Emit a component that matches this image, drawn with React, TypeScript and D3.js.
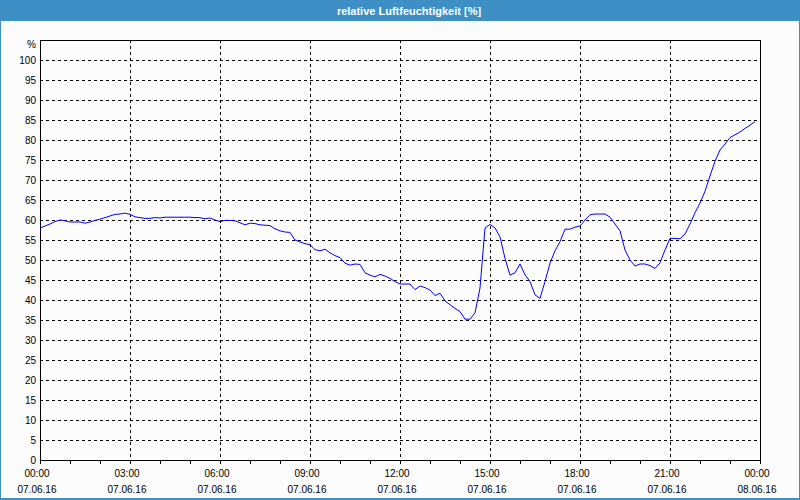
import React from "react";
import * as d3 from "d3";

const title = "relative Luftfeuchtigkeit [%]";
const yTicks = [0, 5, 10, 15, 20, 25, 30, 35, 40, 45, 50, 55, 60, 65, 70, 75, 80, 85, 90, 95, 100];
const xMajorHours = [0, 3, 6, 9, 12, 15, 18, 21, 24];
const xTimeLabels = ["00:00", "03:00", "06:00", "09:00", "12:00", "15:00", "18:00", "21:00", "00:00"];
const xDateLabels = ["07.06.16", "07.06.16", "07.06.16", "07.06.16", "07.06.16", "07.06.16", "07.06.16", "07.06.16", "08.06.16"];

// relative humidity, one value per 10 minutes from 00:00 to 23:50
const humidity = [
  58.0, 58.5, 59.0, 59.6, 60.0, 59.8, 59.5, 59.5, 59.5, 59.2, 59.5, 59.9,
  60.2, 60.6, 61.0, 61.4, 61.5, 61.7, 61.4, 60.8, 60.6, 60.4, 60.4, 60.6,
  60.5, 60.7, 60.7, 60.7, 60.7, 60.7, 60.7, 60.6, 60.6, 60.3, 60.5, 60.0,
  59.6, 59.9, 59.9, 59.8, 59.3, 58.8, 59.2, 59.1, 58.8, 58.7, 58.6, 57.8,
  57.3, 57.0, 56.9, 55.0, 54.5, 54.1, 53.8, 52.6, 52.3, 52.7, 51.8, 51.1,
  50.6, 49.2, 48.7, 49.0, 48.9, 46.8, 46.2, 45.8, 46.4, 46.0, 45.4, 44.6,
  44.0, 44.0, 44.0, 42.6, 43.5, 43.1, 42.5, 41.1, 41.7, 39.8, 38.8, 37.9,
  37.1, 35.2, 35.2, 36.8, 43.0, 58.0, 58.9, 58.0, 55.8, 50.4, 46.2, 46.8,
  49.0, 46.3, 44.6, 41.3, 40.4, 44.6, 49.2, 52.3, 54.6, 57.7, 57.7, 58.2,
  58.5, 60.0, 61.3, 61.5, 61.5, 61.5, 60.7, 59.0, 57.3, 52.5, 50.0, 48.5,
  49.0, 49.0, 48.6, 47.9, 49.3, 52.5, 55.4, 55.4, 55.3, 56.5, 59.0, 61.8,
  64.2, 67.2, 71.0, 74.7, 77.5, 79.0, 80.6, 81.3, 82.0, 82.9, 83.7, 84.6,
];

const W = 800;
const H = 500;
const plot = { left: 40, right: 760, top: 40, bottom: 460 };
const font = "'Liberation Sans', Arial, sans-serif";

export default function App() {
  const x = d3.scaleLinear().domain([0, 24]).range([plot.left, plot.right]);
  const y = d3.scaleLinear().domain([0, 100]).range([plot.bottom, plot.top + 20]);
  const hours = d3.range(0, 25);
  const line = d3
    .line<number>()
    .x((_, i) => x((i * 10) / 60))
    .y((d) => y(d));

  return (
    <div style={{ position: "absolute", left: 0, top: 0 }}>
      <svg width={W} height={H} style={{ display: "block" }}>
        <rect x={0} y={0} width={W} height={H} fill="#fbfcfb" />
        <rect x={0} y={0} width={W} height={21} fill="#3d8fc6" />
        <rect x={0} y={0} width={1} height={H} fill="#3d8fc6" />
        <rect x={W - 1} y={0} width={1} height={H} fill="#3d8fc6" />
        <rect x={0} y={H - 2} width={W} height={2} fill="#3d8fc6" />
        <text
          x={409}
          y={15}
          textAnchor="middle"
          fill="#ffffff"
          fontFamily={font}
          fontWeight="bold"
          fontSize={11}
        >
          {title}
        </text>

        {/* horizontal grid */}
        {yTicks
          .filter((v) => v > 0)
          .map((v) => (
            <line
              key={"h" + v}
              x1={plot.left}
              x2={plot.right}
              y1={y(v) + 0.5}
              y2={y(v) + 0.5}
              stroke="#000"
              strokeWidth={1}
              strokeDasharray="3,3"
              shapeRendering="crispEdges"
            />
          ))}
        {/* vertical grid */}
        {xMajorHours
          .filter((h) => h > 0 && h < 24)
          .map((h) => (
            <line
              key={"v" + h}
              x1={x(h) + 0.5}
              x2={x(h) + 0.5}
              y1={plot.top}
              y2={plot.bottom}
              stroke="#000"
              strokeWidth={1}
              strokeDasharray="3,3"
              shapeRendering="crispEdges"
            />
          ))}

        {/* frame */}
        <rect
          x={plot.left + 0.5}
          y={plot.top + 0.5}
          width={plot.right - plot.left}
          height={plot.bottom - plot.top}
          fill="none"
          stroke="#000"
          strokeWidth={1}
          shapeRendering="crispEdges"
        />

        {/* hour ticks */}
        {hours.map((h) => (
          <line
            key={"t" + h}
            x1={x(h) + 0.5}
            x2={x(h) + 0.5}
            y1={plot.bottom}
            y2={plot.bottom + 4}
            stroke="#000"
            strokeWidth={1}
            shapeRendering="crispEdges"
          />
        ))}

        {/* y labels */}
        <text x={36} y={48} textAnchor="end" fontFamily={font} fontSize={10} fill="#000">
          %
        </text>
        {yTicks.map((v) => (
          <text
            key={"yl" + v}
            x={36}
            y={y(v) + 4}
            textAnchor="end"
            fontFamily={font}
            fontSize={10}
            fill="#000"
          >
            {v}
          </text>
        ))}

        {/* x labels */}
        {xMajorHours.map((h, i) => (
          <g key={"xl" + h}>
            <text x={x(h) - 3} y={477} textAnchor="middle" fontFamily={font} fontSize={10} fill="#000">
              {xTimeLabels[i]}
            </text>
            <text x={x(h) - 3} y={493} textAnchor="middle" fontFamily={font} fontSize={10} fill="#000">
              {xDateLabels[i]}
            </text>
          </g>
        ))}

        <path d={line(humidity) || ""} fill="none" stroke="#0000ff" strokeWidth={1} />
      </svg>
    </div>
  );
}
